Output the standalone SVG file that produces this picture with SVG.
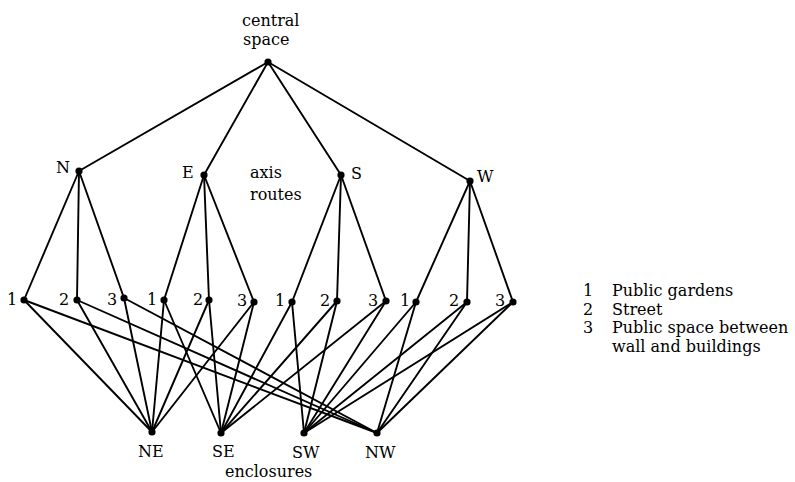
<svg xmlns="http://www.w3.org/2000/svg" width="795" height="482" viewBox="0 0 795 482">
<style>
text{font-family:"DejaVu Serif","Liberation Serif",serif;font-size:16px;fill:#000}
.e line{stroke:#000;stroke-width:1.9;stroke-linecap:round}
.n circle{fill:#000}
</style>
<rect width="795" height="482" fill="#fff"/>
<g class="e" id="connectors">
<line x1="268" y1="62" x2="79" y2="171"/>
<line x1="268" y1="62" x2="204" y2="175"/>
<line x1="268" y1="62" x2="341" y2="175"/>
<line x1="268" y1="62" x2="470" y2="181"/>
<line x1="79" y1="171" x2="24" y2="300"/>
<line x1="79" y1="171" x2="77" y2="300"/>
<line x1="79" y1="171" x2="124" y2="298"/>
<line x1="204" y1="175" x2="164" y2="300"/>
<line x1="204" y1="175" x2="209" y2="300"/>
<line x1="204" y1="175" x2="254" y2="302"/>
<line x1="341" y1="175" x2="292" y2="302"/>
<line x1="341" y1="175" x2="337" y2="301"/>
<line x1="341" y1="175" x2="386" y2="301"/>
<line x1="470" y1="181" x2="416" y2="302"/>
<line x1="470" y1="181" x2="467" y2="302"/>
<line x1="470" y1="181" x2="513" y2="302"/>
<line x1="24" y1="300" x2="152" y2="432"/>
<line x1="77" y1="300" x2="152" y2="432"/>
<line x1="124" y1="298" x2="152" y2="432"/>
<line x1="164" y1="300" x2="152" y2="432"/>
<line x1="209" y1="300" x2="152" y2="432"/>
<line x1="254" y1="302" x2="152" y2="432"/>
<line x1="164" y1="300" x2="221" y2="433"/>
<line x1="209" y1="300" x2="221" y2="433"/>
<line x1="254" y1="302" x2="221" y2="433"/>
<line x1="292" y1="302" x2="221" y2="433"/>
<line x1="337" y1="301" x2="221" y2="433"/>
<line x1="386" y1="301" x2="221" y2="433"/>
<line x1="292" y1="302" x2="304" y2="433"/>
<line x1="337" y1="301" x2="304" y2="433"/>
<line x1="386" y1="301" x2="304" y2="433"/>
<line x1="416" y1="302" x2="304" y2="433"/>
<line x1="467" y1="302" x2="304" y2="433"/>
<line x1="513" y1="302" x2="304" y2="433"/>
<line x1="24" y1="300" x2="377" y2="433"/>
<line x1="77" y1="300" x2="377" y2="433"/>
<line x1="124" y1="298" x2="377" y2="433"/>
<line x1="416" y1="302" x2="377" y2="433"/>
<line x1="467" y1="302" x2="377" y2="433"/>
<line x1="513" y1="302" x2="377" y2="433"/>
</g>
<g class="n">
<g id="central"><circle cx="268" cy="62" r="3.6"/><text x="242" y="26">central</text><text x="243" y="45">space</text></g>
<g id="N"><circle cx="79" cy="171" r="3.6"/><text x="56" y="173">N</text></g>
<g id="E"><circle cx="204" cy="175" r="3.6"/><text x="182" y="178">E</text></g>
<g id="S"><circle cx="341" cy="175" r="3.6"/><text x="351" y="179">S</text></g>
<g id="W"><circle cx="470" cy="181" r="3.6"/><text x="477" y="182">W</text></g>
<g id="axis-label"><text x="250" y="178">axis</text><text x="250" y="200">routes</text></g>
<g id="N1"><circle cx="24" cy="300" r="3.6"/><text x="7" y="305">1</text></g>
<g id="N2"><circle cx="77" cy="300" r="3.6"/><text x="59" y="305">2</text></g>
<g id="N3"><circle cx="124" cy="298" r="3.6"/><text x="107" y="305">3</text></g>
<g id="E1"><circle cx="164" cy="300" r="3.6"/><text x="147" y="305">1</text></g>
<g id="E2"><circle cx="209" cy="300" r="3.6"/><text x="193" y="305">2</text></g>
<g id="E3"><circle cx="254" cy="302" r="3.6"/><text x="237" y="306">3</text></g>
<g id="S1"><circle cx="292" cy="302" r="3.6"/><text x="275" y="306">1</text></g>
<g id="S2"><circle cx="337" cy="301" r="3.6"/><text x="320" y="306">2</text></g>
<g id="S3"><circle cx="386" cy="301" r="3.6"/><text x="368" y="306">3</text></g>
<g id="W1"><circle cx="416" cy="302" r="3.6"/><text x="400" y="306">1</text></g>
<g id="W2"><circle cx="467" cy="302" r="3.6"/><text x="449" y="306">2</text></g>
<g id="W3"><circle cx="513" cy="302" r="3.6"/><text x="495" y="306">3</text></g>
<g id="NE"><circle cx="152" cy="432" r="3.6"/><text x="138" y="457">NE</text></g>
<g id="SE"><circle cx="221" cy="433" r="3.6"/><text x="212" y="457">SE</text></g>
<g id="SW"><circle cx="304" cy="433" r="3.6"/><text x="292" y="458">SW</text></g>
<g id="NW"><circle cx="377" cy="433" r="3.6"/><text x="365" y="458">NW</text></g>
<g id="enclosures-label"><text x="225" y="477">enclosures</text></g>
</g>
<g id="legend">
<text x="583" y="296">1</text><text x="612" y="296">Public gardens</text>
<text x="583" y="315">2</text><text x="612" y="315">Street</text>
<text x="583" y="333">3</text><text x="612" y="333">Public space between</text>
<text x="612" y="352">wall and buildings</text>
</g>
</svg>
